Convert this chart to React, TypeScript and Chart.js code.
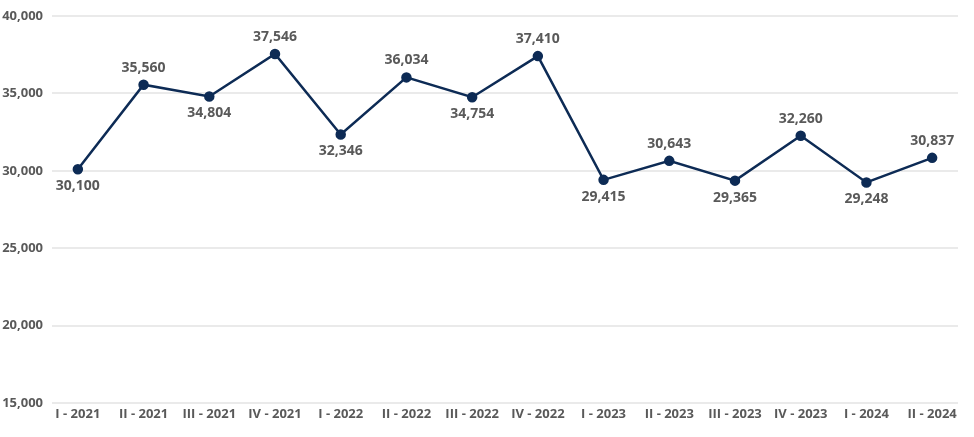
import React, { useEffect, useRef } from "react";
import { Chart, registerables } from "chart.js";

Chart.register(...registerables);

const categories = [
  "I - 2021", "II - 2021", "III - 2021", "IV - 2021",
  "I - 2022", "II - 2022", "III - 2022", "IV - 2022",
  "I - 2023", "II - 2023", "III - 2023", "IV - 2023",
  "I - 2024", "II - 2024",
];
const values = [30100, 35560, 34804, 37546, 32346, 36034, 34754, 37410, 29415, 30643, 29365, 32260, 29248, 30837];
const labelAbove = [false, true, false, true, false, true, false, true, false, true, false, true, false, true];
const yTicks = [15000, 20000, 25000, 30000, 35000, 40000];

const gridPlugin = {
  id: "customGrid",
  beforeDatasetsDraw(chart: any) {
    const ctx = chart.ctx;
    const y = chart.scales.y;
    const area = chart.chartArea;
    ctx.save();
    ctx.strokeStyle = "#e3e3e3";
    ctx.lineWidth = 1.5;
    yTicks.forEach((v) => {
      const py = Math.round(y.getPixelForValue(v));
      ctx.beginPath();
      ctx.moveTo(area.left + 7, py);
      ctx.lineTo(area.right - 7, py);
      ctx.stroke();
    });
    ctx.restore();
  },
};

const labelPlugin = {
  id: "pointLabels",
  afterDatasetsDraw(chart: any) {
    const ctx = chart.ctx;
    const meta = chart.getDatasetMeta(0);
    ctx.save();
    ctx.font = "bold 14px 'Open Sans', sans-serif";
    ctx.fillStyle = "#595959";
    ctx.textAlign = "center";
    ctx.textBaseline = "middle";
    meta.data.forEach((pt: any, i: number) => {
      const dy = labelAbove[i] ? -17 : 17;
      ctx.fillText(values[i].toLocaleString("en-US"), pt.x, pt.y + dy);
    });
    ctx.restore();
  },
};

export default function App() {
  const ref = useRef<HTMLCanvasElement>(null);
  useEffect(() => {
    if (!ref.current) return;
    const chart = new Chart(ref.current, {
      type: "line",
      data: {
        labels: categories,
        datasets: [
          {
            data: values,
            borderColor: "#0d2b55",
            backgroundColor: "#0d2b55",
            borderWidth: 2.5,
            pointRadius: 4,
            pointHoverRadius: 4,
            tension: 0,
          },
        ],
      },
      options: {
        animation: false,
        responsive: false,
        maintainAspectRatio: false,
        layout: { padding: { top: 16, right: 9, left: 0, bottom: 0 } },
        plugins: { legend: { display: false }, tooltip: { enabled: false } },
        scales: {
          x: {
            offset: true,
            grid: { display: false, drawTicks: false },
            border: { display: false },
            afterFit: (s: any) => { s.height = 34; },
            ticks: {
              color: "#595959",
              font: { family: "'Open Sans', sans-serif", size: 13, weight: "bold" },
              padding: 3,
              maxRotation: 0,
              autoSkip: false,
            },
          },
          y: {
            min: 15000,
            max: 40000,
            afterFit: (s: any) => { s.width = 45; },
            afterBuildTicks: (s: any) => { s.ticks = yTicks.map((v) => ({ value: v })); },
            grid: { display: false, drawTicks: false },
            border: { display: false },
            ticks: {
              color: "#595959",
              font: { family: "'Open Sans', sans-serif", size: 13, weight: "bold" },
              padding: 2,
              callback: (v: any) => Number(v).toLocaleString("en-US"),
            },
          },
        },
      },
      plugins: [gridPlugin, labelPlugin],
    });
    return () => chart.destroy();
  }, []);
  return (
    <div style={{ position: "fixed", left: 0, top: 0, width: 974, height: 437, background: "#fff" }}>
      <canvas ref={ref} width={974} height={437} />
    </div>
  );
}
